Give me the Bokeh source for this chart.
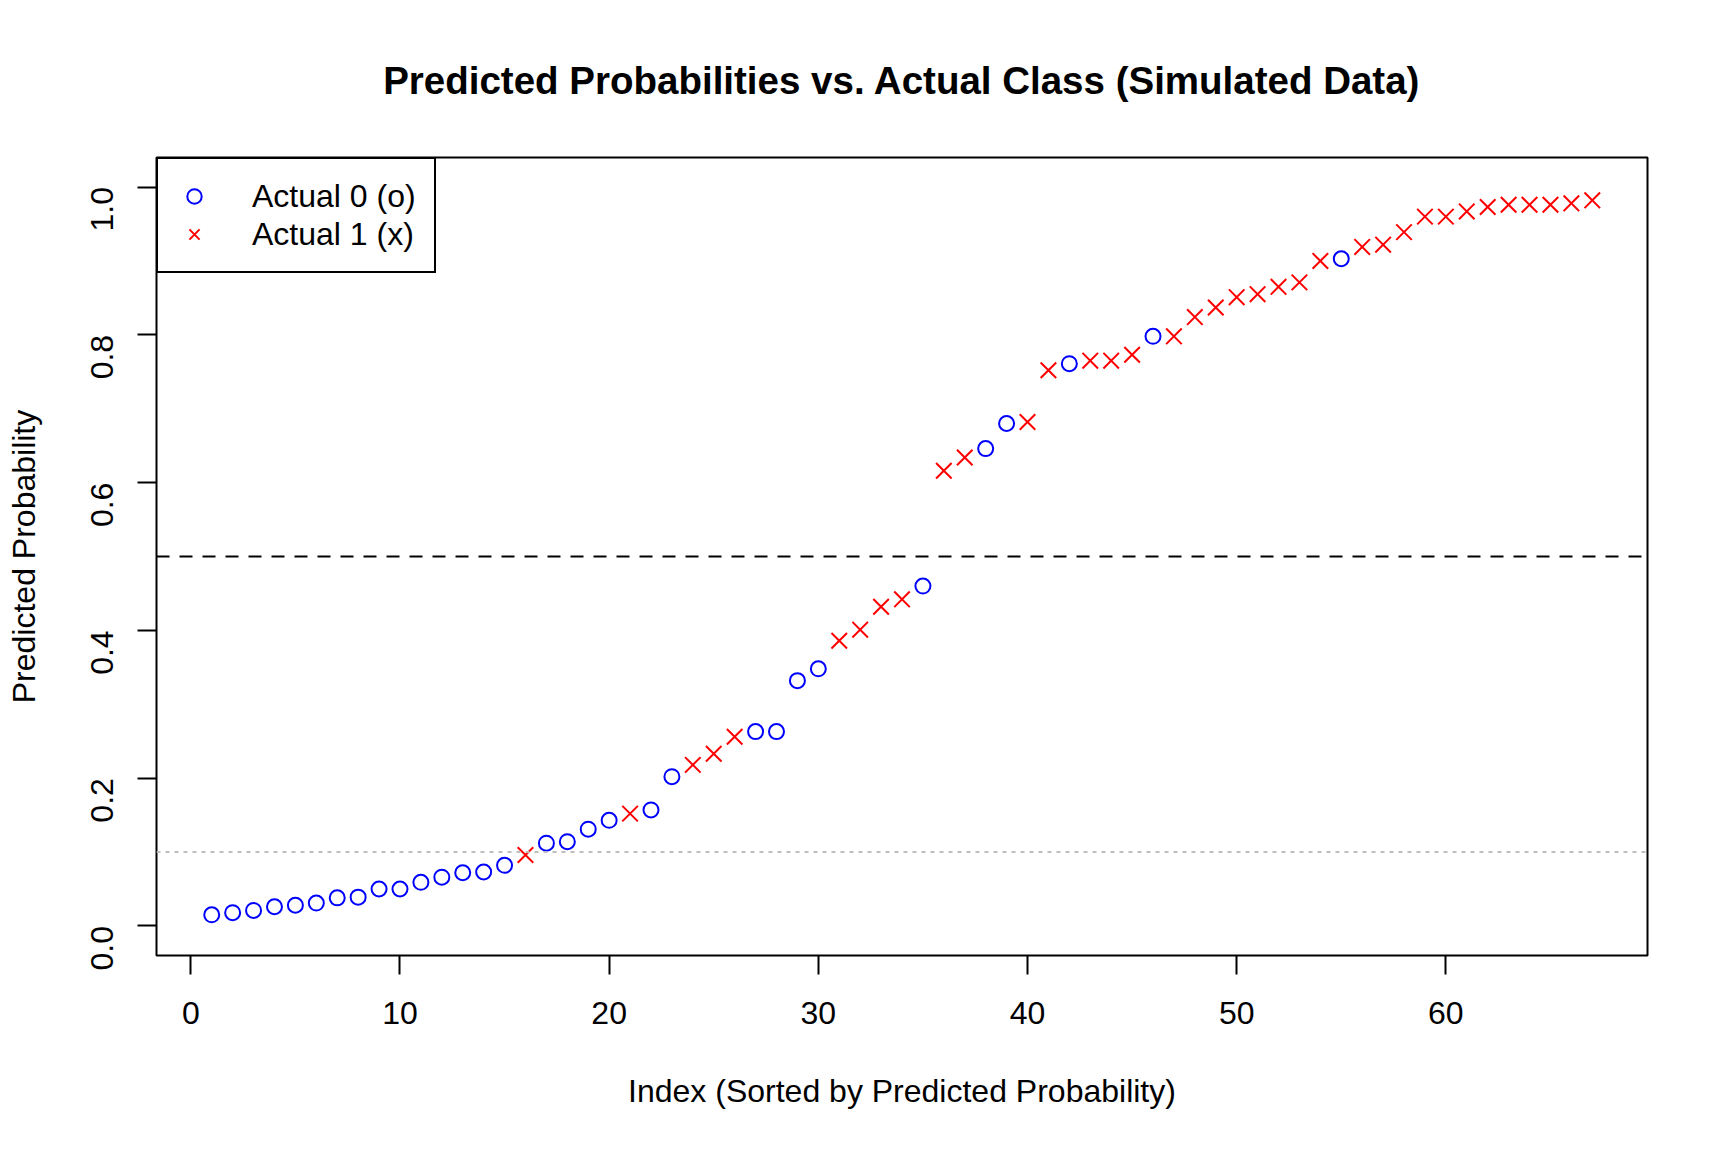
import math
from bokeh.plotting import figure
from bokeh.models import FixedTicker, Span, PrintfTickFormatter, Range1d
from bokeh.embed import file_html
from bokeh.resources import INLINE

# ---- data ----
index = list(range(1, 68))
prob = [0.015, 0.018, 0.021, 0.026, 0.028, 0.031, 0.038, 0.039, 0.050, 0.050,
        0.059, 0.066, 0.072, 0.073, 0.082, 0.096, 0.112, 0.114, 0.131, 0.143,
        0.152, 0.157, 0.202, 0.218, 0.233, 0.256, 0.263, 0.263, 0.332, 0.348,
        0.386, 0.401, 0.432, 0.442, 0.460, 0.616, 0.634, 0.646, 0.680, 0.682,
        0.752, 0.761, 0.765, 0.765, 0.773, 0.798, 0.798, 0.824, 0.837, 0.851,
        0.855, 0.865, 0.871, 0.900, 0.903, 0.919, 0.922, 0.939, 0.960, 0.960,
        0.967, 0.973, 0.976, 0.976, 0.976, 0.978, 0.982]
actual = [0, 0, 0, 0, 0, 0, 0, 0, 0, 0,
          0, 0, 0, 0, 0, 1, 0, 0, 0, 0,
          1, 0, 0, 1, 1, 1, 0, 0, 0, 0,
          1, 1, 1, 1, 0, 1, 1, 0, 0, 1,
          1, 0, 1, 1, 1, 0, 1, 1, 1, 1,
          1, 1, 1, 1, 0, 1, 1, 1, 1, 1,
          1, 1, 1, 1, 1, 1, 1]
x_ticks = [0, 10, 20, 30, 40, 50, 60]
y_ticks = [0.0, 0.2, 0.4, 0.6, 0.8, 1.0]
threshold = 0.5
low_ref = 0.1
labels = ["Actual 0 (o)", "Actual 1 (x)"]

x0 = [i for i, a in zip(index, actual) if a == 0]
y0 = [v for v, a in zip(prob, actual) if a == 0]
x1 = [i for i, a in zip(index, actual) if a == 1]
y1 = [v for v, a in zip(prob, actual) if a == 1]

FONT = "Liberation Sans"

p = figure(width=1712, height=1136, output_backend="svg", toolbar_location=None,
           x_range=Range1d(-1.64, 69.64), y_range=Range1d(-0.04, 1.04),
           title="Predicted Probabilities vs. Actual Class (Simulated Data)",
           min_border_left=156, min_border_right=65, min_border_top=157,
           min_border_bottom=181)

p.title.text_font = FONT
p.title.text_font_size = "38.5px"
p.title.text_font_style = "bold"
p.title.text_color = "black"
p.title.align = "center"
p.title.standoff = 112

p.xgrid.visible = False
p.ygrid.visible = False
p.outline_line_color = "black"
p.outline_line_width = 2
p.outline_line_alpha = 1.0

p.xaxis.ticker = FixedTicker(ticks=x_ticks)
p.yaxis.ticker = FixedTicker(ticks=y_ticks)
p.yaxis.formatter = PrintfTickFormatter(format="%.1f")
p.yaxis.major_label_orientation = math.pi / 2

for ax in p.axis:
    ax.axis_line_color = None
    ax.minor_tick_line_color = None
    ax.major_tick_in = 0
    ax.major_tick_out = 19
    ax.major_tick_line_width = 2
    ax.major_tick_line_color = "black"
    ax.major_label_text_font = FONT
    ax.major_label_text_font_size = "32px"
    ax.major_label_text_color = "black"
    ax.axis_label_text_font = FONT
    ax.axis_label_text_font_size = "32px"
    ax.axis_label_text_font_style = "normal"
    ax.axis_label_text_color = "black"

p.xaxis.axis_label = "Index (Sorted by Predicted Probability)"
p.yaxis.axis_label = "Predicted Probability"
p.xaxis.major_label_standoff = 27
p.xaxis.axis_label_standoff = 46
p.yaxis.major_label_standoff = 35
p.yaxis.axis_label_standoff = 36

p.add_layout(Span(location=threshold, dimension="width", line_color="black",
                  line_width=2, line_dash="13 10"))
p.add_layout(Span(location=low_ref, dimension="width", line_color="#BEBEBE",
                  line_width=2, line_dash="4 5"))

p.scatter(x0, y0, marker="circle", size=15, line_color="blue", line_width=2,
          fill_color=None, legend_label=labels[0])
p.scatter(x1, y1, marker="x", size=22, line_color="red", line_width=2,
          legend_label=labels[1])

lg = p.legend[0]
lg.location = "top_left"
lg.margin = 0
lg.padding = 18
lg.spacing = 0
lg.glyph_height = 38
lg.glyph_width = 36
lg.label_standoff = 40
lg.label_height = 38
lg.label_text_font = FONT
lg.label_text_font_size = "32px"
lg.label_text_color = "black"
lg.border_line_color = "black"
lg.border_line_width = 2
lg.border_line_alpha = 1.0
lg.background_fill_alpha = 1.0

open("out.html", "w").write(file_html(p, INLINE))
